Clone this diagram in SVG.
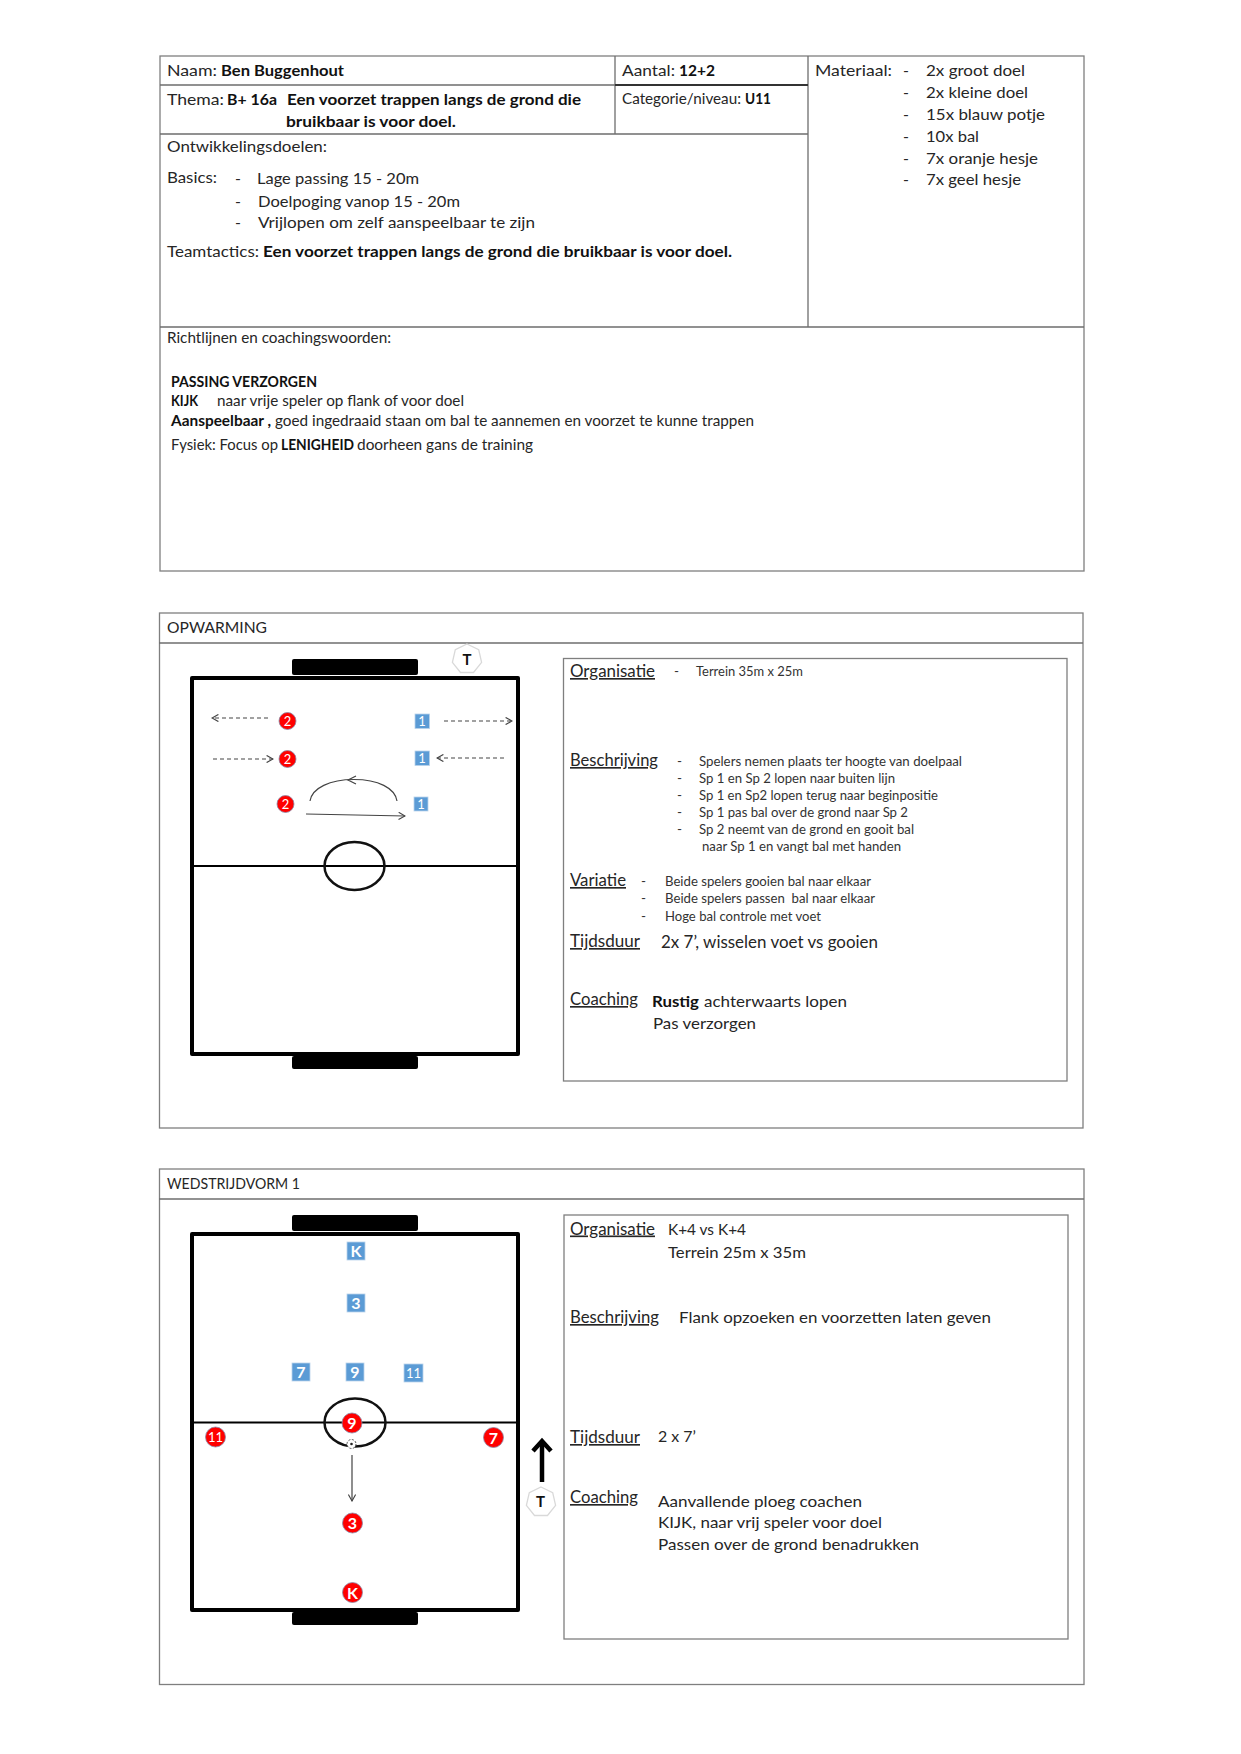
<svg xmlns="http://www.w3.org/2000/svg" xmlns:xlink="http://www.w3.org/1999/xlink" width="1241" height="1754" viewBox="0 0 1241 1754">
<style>
text{font-family:Lato,"Open Sans","Liberation Sans",sans-serif;fill:#262626;font-size:16px;white-space:pre}
.b{font-weight:700;fill:#111}
.s{font-size:15px}
.x{font-size:13.5px;fill:#333}
.h{font-size:16.5px;text-decoration:underline}
.m{font-size:16.5px}
.box{fill:none;stroke:#7f7f7f;stroke-width:1.3}
.ln{stroke:#6e6e6e;stroke-width:1.3;fill:none}
.field{fill:#fff;stroke:#000;stroke-width:4;stroke-linejoin:round}
.mid{stroke:#000;stroke-width:2;fill:none}
.cc{fill:none;stroke:#111;stroke-width:2.5}
.goal{fill:#000}
.dash{stroke:#444;stroke-width:1.2;stroke-dasharray:4 3;fill:none;marker-end:url(#open)}
.run{stroke:#444;stroke-width:1.2;fill:none;marker-end:url(#open)}
.arc{stroke:#444;stroke-width:1.2;fill:none}
.red{fill:#f00;stroke:#8a8aa8;stroke-width:.8}
.blue{fill:#5b9bd5;stroke:#b9d3ea;stroke-width:.8}
.lb{fill:#fff;font-weight:400;text-anchor:middle;font-size:13px}
.lg{fill:#fff;font-weight:700;text-anchor:middle;font-size:16px}
.hept{fill:#fff;stroke:#d9d9d9;stroke-width:1.3}
.t{font-weight:700;text-anchor:middle;font-size:15px;fill:#111}
</style>
<defs>
<marker id="open" viewBox="0 0 10 10" refX="9" refY="5" markerWidth="8" markerHeight="8" markerUnits="userSpaceOnUse" orient="auto"><path d="M1 .5L9 5L1 9.500" fill="none" stroke="#444" stroke-width="1.400"/></marker>
<polygon id="hept" class="hept" points="0,-15 11.7,-9.4 14.6,3.3 6.5,13.5 -6.5,13.5 -14.6,3.3 -11.7,-9.4"/>
</defs>
<rect width="1241" height="1754" fill="#fff"/>

<g id="top-table">
<rect class="box" x="160" y="56" width="924" height="515"/>
<path class="ln" d="M615 56V134M808 56V327M160 85H615M160 134H808M160 327H1084"/>
<path d="M615 85H808" stroke="#333" stroke-width="1.800"/>
<text x="167" y="76" textLength="50" lengthAdjust="spacingAndGlyphs">Naam:</text>
<text class="b" x="221" y="76" textLength="123" lengthAdjust="spacingAndGlyphs">Ben Buggenhout</text>
<text x="622" y="76" textLength="53" lengthAdjust="spacingAndGlyphs">Aantal:</text>
<text class="b" x="679" y="76" textLength="36" lengthAdjust="spacingAndGlyphs">12+2</text>
<text x="815" y="76" textLength="77" lengthAdjust="spacingAndGlyphs">Materiaal:</text>
<text x="903" y="76">-</text><text x="926" y="76" textLength="99" lengthAdjust="spacingAndGlyphs">2x groot doel</text>
<text x="903" y="98">-</text><text x="926" y="98" textLength="102" lengthAdjust="spacingAndGlyphs">2x kleine doel</text>
<text x="903" y="120">-</text><text x="926" y="120" textLength="119" lengthAdjust="spacingAndGlyphs">15x blauw potje</text>
<text x="903" y="142">-</text><text x="926" y="142" textLength="53" lengthAdjust="spacingAndGlyphs">10x bal</text>
<text x="903" y="164">-</text><text x="926" y="164" textLength="112" lengthAdjust="spacingAndGlyphs">7x oranje hesje</text>
<text x="903" y="185">-</text><text x="926" y="185" textLength="95" lengthAdjust="spacingAndGlyphs">7x geel hesje</text>
<text x="167" y="105" textLength="57" lengthAdjust="spacingAndGlyphs">Thema:</text>
<text class="b" x="227" y="105" textLength="50" lengthAdjust="spacingAndGlyphs">B+ 16a</text>
<text class="b" x="287" y="105" textLength="294" lengthAdjust="spacingAndGlyphs">Een voorzet trappen langs de grond die</text>
<text class="b" x="286" y="127" textLength="170" lengthAdjust="spacingAndGlyphs">bruikbaar is voor doel.</text>
<text class="s" x="622" y="104" textLength="119" lengthAdjust="spacingAndGlyphs">Categorie/niveau:</text>
<text class="b s" x="745" y="104" textLength="26" lengthAdjust="spacingAndGlyphs">U11</text>
<text x="167" y="152" textLength="160" lengthAdjust="spacingAndGlyphs">Ontwikkelingsdoelen:</text>
<text x="167" y="183" textLength="50" lengthAdjust="spacingAndGlyphs">Basics:</text>
<text x="235" y="184">-</text><text x="257" y="184" textLength="162" lengthAdjust="spacingAndGlyphs">Lage passing 15 - 20m</text>
<text x="235" y="207">-</text><text x="258" y="207" textLength="202" lengthAdjust="spacingAndGlyphs">Doelpoging vanop 15 - 20m</text>
<text x="235" y="228">-</text><text x="258" y="228" textLength="277" lengthAdjust="spacingAndGlyphs">Vrijlopen om zelf aanspeelbaar te zijn</text>
<text x="167" y="257" textLength="92" lengthAdjust="spacingAndGlyphs">Teamtactics:</text>
<text class="b" x="263" y="257" textLength="469" lengthAdjust="spacingAndGlyphs">Een voorzet trappen langs de grond die bruikbaar is voor doel.</text>
<text class="s" x="167" y="343" textLength="224" lengthAdjust="spacingAndGlyphs">Richtlijnen en coachingswoorden:</text>
<text class="b s" x="171" y="387" textLength="146" lengthAdjust="spacingAndGlyphs">PASSING VERZORGEN</text>
<text class="b s" x="171" y="406" textLength="27" lengthAdjust="spacingAndGlyphs">KIJK</text>
<text class="s" x="217" y="406" textLength="247" lengthAdjust="spacingAndGlyphs">naar vrije speler op flank of voor doel</text>
<text class="b s" x="171" y="426" textLength="100" lengthAdjust="spacingAndGlyphs">Aanspeelbaar ,</text>
<text class="s" x="275" y="426" textLength="479" lengthAdjust="spacingAndGlyphs">goed ingedraaid staan om bal te aannemen en voorzet te kunne trappen</text>
<text class="s" x="171" y="450" textLength="107" lengthAdjust="spacingAndGlyphs">Fysiek: Focus op</text>
<text class="b s" x="281" y="450" textLength="73" lengthAdjust="spacingAndGlyphs">LENIGHEID</text>
<text class="s" x="357" y="450" textLength="176" lengthAdjust="spacingAndGlyphs">doorheen gans de training</text>
</g>

<g id="opwarming-frame">
<rect class="box" x="159.500" y="613" width="923.500" height="515"/>
<path class="ln" d="M159 643H1083"/>
<text x="167" y="633" textLength="100" lengthAdjust="spacingAndGlyphs">OPWARMING</text>
</g>
<g id="opwarming-field">
<rect class="field" x="192" y="678" width="326" height="376"/>
<path class="mid" d="M192 866H518"/>
<ellipse class="cc" cx="354.500" cy="866" rx="30" ry="24"/>
<rect class="goal" x="292" y="659" width="126" height="16" rx="2"/>
<rect class="goal" x="292" y="1056" width="126" height="13" rx="2"/>
</g>
<g id="opwarming-connectors">
<path class="dash" d="M268 718H212"/>
<path class="dash" d="M213 759H273"/>
<path class="dash" d="M444 721H512"/>
<path class="dash" d="M504 758H437"/>
<path class="arc" d="M310 801C312 788 330 779.500 354 779.500C378 779.500 395 788 397 801"/>
<path class="arc" d="M356 784L348 780L356 776"/>
<path class="run" d="M306 814L405 816"/>
</g>
<g id="op-t"><use href="#hept" transform="translate(467 659)"/><text class="t" x="467" y="665">T</text></g>
<g id="op-r1"><circle class="red" cx="287.500" cy="721" r="8.500"/><text class="lb" x="287.500" y="725.500">2</text></g>
<g id="op-r2"><circle class="red" cx="287.500" cy="759" r="8.500"/><text class="lb" x="287.500" y="763.500">2</text></g>
<g id="op-r3"><circle class="red" cx="285.500" cy="804" r="8.500"/><text class="lb" x="285.500" y="808.500">2</text></g>
<g id="op-b1"><rect class="blue" x="415" y="714" width="14.500" height="14.500"/><text class="lb" x="422" y="726">1</text></g>
<g id="op-b2"><rect class="blue" x="415" y="751" width="14.500" height="14.500"/><text class="lb" x="422" y="763">1</text></g>
<g id="op-b3"><rect class="blue" x="414" y="797" width="14" height="14"/><text class="lb" x="421" y="809">1</text></g>

<g id="opwarming-info">
<rect class="box" x="563.500" y="658.500" width="503.500" height="422.500"/>
<text class="h" x="570" y="677" textLength="85" lengthAdjust="spacingAndGlyphs">Organisatie</text>
<text class="x" x="674" y="676">-</text><text class="x" x="696" y="676" textLength="107" lengthAdjust="spacingAndGlyphs">Terrein 35m x 25m</text>
<text class="h" x="570" y="766" textLength="88" lengthAdjust="spacingAndGlyphs">Beschrijving</text>
<text class="x" x="677" y="766">-</text><text class="x" x="699" y="766" textLength="263" lengthAdjust="spacingAndGlyphs">Spelers nemen plaats ter hoogte van doelpaal</text>
<text class="x" x="677" y="783">-</text><text class="x" x="699" y="783" textLength="196" lengthAdjust="spacingAndGlyphs">Sp 1 en Sp 2 lopen naar buiten lijn</text>
<text class="x" x="677" y="800">-</text><text class="x" x="699" y="800" textLength="239" lengthAdjust="spacingAndGlyphs">Sp 1 en Sp2 lopen terug naar beginpositie</text>
<text class="x" x="677" y="817">-</text><text class="x" x="699" y="817" textLength="209" lengthAdjust="spacingAndGlyphs">Sp 1 pas bal over de grond naar Sp 2</text>
<text class="x" x="677" y="834">-</text><text class="x" x="699" y="834" textLength="215" lengthAdjust="spacingAndGlyphs">Sp 2 neemt van de grond en gooit bal</text>
<text class="x" x="702" y="851" textLength="199" lengthAdjust="spacingAndGlyphs">naar Sp 1 en vangt bal met handen</text>
<text class="h" x="570" y="886" textLength="56" lengthAdjust="spacingAndGlyphs">Variatie</text>
<text class="x" x="641" y="886">-</text><text class="x" x="665" y="886" textLength="206" lengthAdjust="spacingAndGlyphs">Beide spelers gooien bal naar elkaar</text>
<text class="x" x="641" y="903">-</text><text class="x" x="665" y="903" textLength="210" lengthAdjust="spacingAndGlyphs">Beide spelers passen  bal naar elkaar</text>
<text class="x" x="641" y="921">-</text><text class="x" x="665" y="921" textLength="156" lengthAdjust="spacingAndGlyphs">Hoge bal controle met voet</text>
<text class="h" x="570" y="947" textLength="70" lengthAdjust="spacingAndGlyphs">Tijdsduur</text>
<text class="m" x="661" y="948" textLength="217" lengthAdjust="spacingAndGlyphs">2x 7’, wisselen voet vs gooien</text>
<text class="h" x="570" y="1005" textLength="68" lengthAdjust="spacingAndGlyphs">Coaching</text>
<text class="b" x="652" y="1007" textLength="47" lengthAdjust="spacingAndGlyphs">Rustig</text>
<text x="704" y="1007" textLength="143" lengthAdjust="spacingAndGlyphs">achterwaarts lopen</text>
<text x="653" y="1029" textLength="103" lengthAdjust="spacingAndGlyphs">Pas verzorgen</text>
</g>

<g id="wedstrijd-frame">
<rect class="box" x="159.500" y="1169" width="924.500" height="515.500"/>
<path class="ln" d="M159 1199H1084"/>
<text x="167" y="1189" textLength="133" lengthAdjust="spacingAndGlyphs">WEDSTRIJDVORM 1</text>
</g>
<g id="wedstrijd-field">
<rect class="field" x="192" y="1234" width="326" height="376"/>
<path class="mid" d="M192 1422.500H518"/>
<ellipse class="cc" cx="355" cy="1422.500" rx="30.500" ry="24"/>
<rect class="goal" x="292" y="1215" width="126" height="16" rx="2"/>
<rect class="goal" x="292" y="1612" width="126" height="13" rx="2"/>
</g>
<g id="wedstrijd-connectors">
<path class="run" d="M352 1455V1501"/>
<path d="M542 1482V1442" stroke="#000" stroke-width="4.500" fill="none"/>
<path d="M533 1451L542 1441L551 1451" stroke="#000" stroke-width="4.500" fill="none"/>
</g>
<g id="w-t"><use href="#hept" transform="translate(541 1502)"/><text class="t" x="540.500" y="1507">T</text></g>
<g id="w-bK"><rect class="blue" x="347" y="1242" width="18" height="18"/><text class="lg" x="356" y="1257">K</text></g>
<g id="w-b3"><rect class="blue" x="347" y="1294" width="18" height="18"/><text class="lg" x="356" y="1309">3</text></g>
<g id="w-b7"><rect class="blue" x="292" y="1363" width="18" height="18"/><text class="lg" x="301" y="1378">7</text></g>
<g id="w-b9"><rect class="blue" x="346" y="1363" width="18" height="18"/><text class="lg" x="355" y="1378">9</text></g>
<g id="w-b11"><rect class="blue" x="404" y="1364" width="19" height="18"/><text class="lb" x="413.500" y="1378">11</text></g>
<g id="w-ball"><circle cx="351.500" cy="1444" r="4.500" fill="#fff" stroke="#555" stroke-width="1" stroke-dasharray="2 1.500"/><circle cx="351.500" cy="1444" r="1.300" fill="#222"/></g>
<g id="w-r9"><circle class="red" cx="352" cy="1423" r="10"/><text class="lg" x="352" y="1429">9</text></g>
<g id="w-r11"><circle class="red" cx="215.500" cy="1437" r="10"/><text class="lb" x="215.500" y="1442">11</text></g>
<g id="w-r7"><circle class="red" cx="493.500" cy="1437.500" r="10"/><text class="lg" x="493.500" y="1443.500">7</text></g>
<g id="w-r3"><circle class="red" cx="352.500" cy="1523" r="10"/><text class="lg" x="352.500" y="1529">3</text></g>
<g id="w-rK"><circle class="red" cx="352.500" cy="1592.500" r="10"/><text class="lg" x="352.500" y="1598.500">K</text></g>

<g id="wedstrijd-info">
<rect class="box" x="564" y="1215" width="504" height="424"/>
<text class="h" x="570" y="1234.500" textLength="85" lengthAdjust="spacingAndGlyphs">Organisatie</text>
<text x="668" y="1235" textLength="78" lengthAdjust="spacingAndGlyphs">K+4 vs K+4</text>
<text x="668" y="1257.500" textLength="138" lengthAdjust="spacingAndGlyphs">Terrein 25m x 35m</text>
<text class="h" x="570" y="1323" textLength="89" lengthAdjust="spacingAndGlyphs">Beschrijving</text>
<text x="679" y="1323" textLength="312" lengthAdjust="spacingAndGlyphs">Flank opzoeken en voorzetten laten geven</text>
<text class="h" x="570" y="1443" textLength="70" lengthAdjust="spacingAndGlyphs">Tijdsduur</text>
<text x="658" y="1442" textLength="38" lengthAdjust="spacingAndGlyphs">2 x 7’</text>
<text class="h" x="570" y="1503" textLength="68" lengthAdjust="spacingAndGlyphs">Coaching</text>
<text x="658" y="1507" textLength="204" lengthAdjust="spacingAndGlyphs">Aanvallende ploeg coachen</text>
<text x="658" y="1528" textLength="224" lengthAdjust="spacingAndGlyphs">KIJK, naar vrij speler voor doel</text>
<text x="658" y="1550" textLength="261" lengthAdjust="spacingAndGlyphs">Passen over de grond benadrukken</text>
</g>
</svg>
